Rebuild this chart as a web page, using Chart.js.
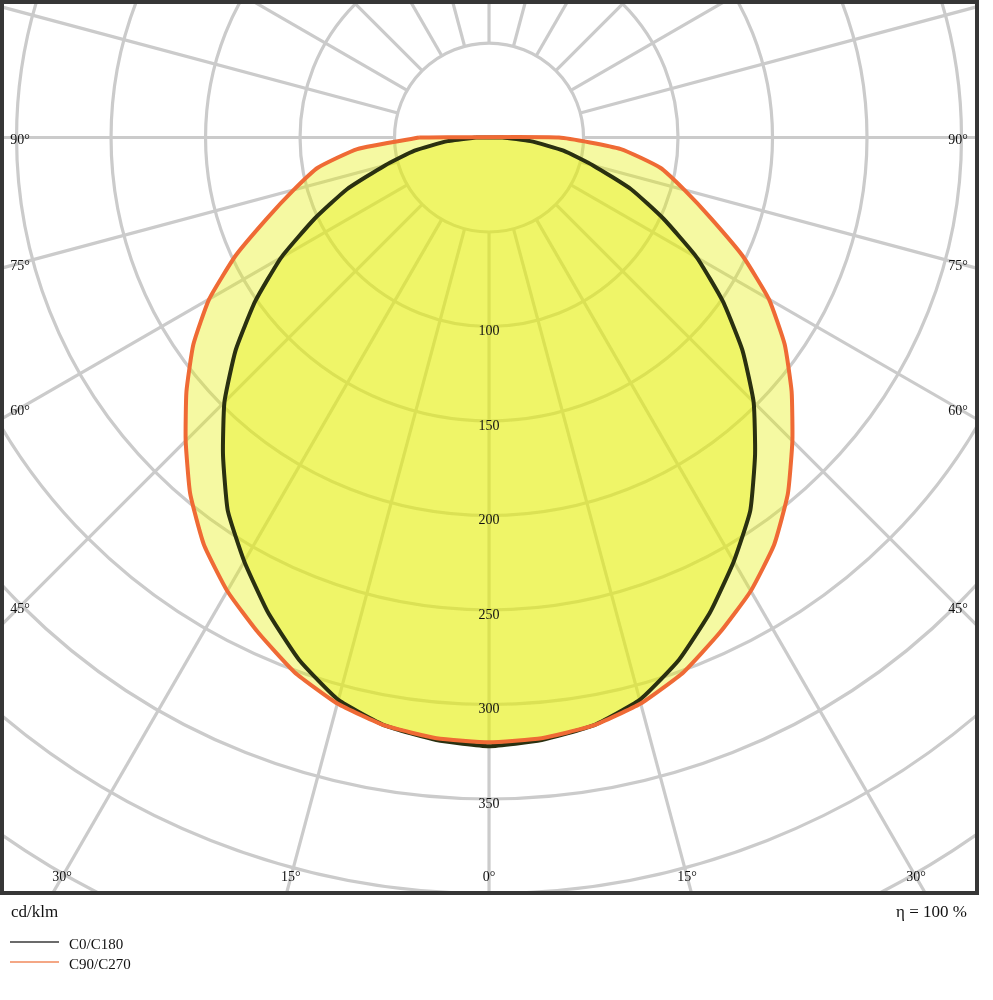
<!DOCTYPE html>
<html>
<head>
<meta charset="UTF-8">
<title>Lichtstärkeverteilung</title>
<script src="https://cdn.jsdelivr.net/npm/chart.js@4.4.1/dist/chart.umd.min.js"></script>
<style>
  html, body { margin: 0; padding: 0; background: #fff; }
  canvas { display: block; }
</style>
</head>
<body>
<canvas id="ldc" width="993" height="1000"></canvas>
<script>
  // angulo gamma (graus a partir do nadir) e intensidades em cd/klm
  const gamma   = [0, 5, 10, 15, 20, 25, 30, 35, 40, 45, 50, 55, 60, 65, 70, 75, 80, 85, 90];
  const c0c180  = [322, 320, 316, 308, 294, 277, 259, 241, 219, 198, 175, 151, 127, 102, 80, 57, 40, 22, 7];
  const c90c270 = [320, 319, 316, 310, 301, 289, 277, 263, 246, 227, 209, 191, 171, 148, 125, 107, 92, 70, 37];

  const rings = [50, 100, 150, 200, 250, 300, 350, 400, 450, 500];
  const ringLabels = [100, 150, 200, 250, 300, 350];
  const sideAngles = [90, 75, 60, 45];
  const bottomAngles = [30, 15, 0];
  const spokeStep = 15;
  const seriesNames = ['C0/C180', 'C90/C270'];
  const unitText = 'cd/klm';
  const etaText = 'η = 100 %';

  const rad = Math.PI / 180;
  const serif = '"Liberation Serif", "Times New Roman", serif';

  // polar -> cartesiano (lado esquerdo C180/C270, lado direito C0/C90)
  function toPoints(vals) {
    const pts = [];
    for (let i = gamma.length - 1; i >= 0; i--) {
      pts.push({ x: -vals[i] * Math.sin(gamma[i] * rad), y: vals[i] * Math.cos(gamma[i] * rad) });
    }
    for (let i = 1; i < gamma.length; i++) {
      pts.push({ x: vals[i] * Math.sin(gamma[i] * rad), y: vals[i] * Math.cos(gamma[i] * rad) });
    }
    pts.push({ x: pts[0].x, y: pts[0].y });
    return pts;
  }

  const polarGrid = {
    id: 'polarGrid',
    beforeDraw(chart) {
      const { ctx, chartArea: a, scales: { x, y } } = chart;
      const cx = x.getPixelForValue(0), cy = y.getPixelForValue(0);
      const k = x.getPixelForValue(1) - cx;
      ctx.save();
      ctx.beginPath();
      ctx.rect(a.left, a.top, a.width, a.height);
      ctx.clip();
      ctx.strokeStyle = '#cbcbcb';
      ctx.lineWidth = 3.2;
      rings.forEach(v => {
        ctx.beginPath();
        ctx.arc(cx, cy, v * k, 0, 2 * Math.PI);
        ctx.stroke();
      });
      for (let d = 0; d < 360; d += spokeStep) {
        const s = Math.sin(d * rad), c = Math.cos(d * rad);
        ctx.beginPath();
        ctx.moveTo(cx + s * rings[0] * k, cy + c * rings[0] * k);
        ctx.lineTo(cx + s * 1500, cy + c * 1500);
        ctx.stroke();
      }
      ctx.restore();
    },
    afterDatasetsDraw(chart) {
      const { ctx, chartArea: a, scales: { x, y } } = chart;
      const cx = x.getPixelForValue(0), cy = y.getPixelForValue(0);
      ctx.save();
      ctx.fillStyle = '#111';
      ctx.textAlign = 'center';
      ctx.textBaseline = 'middle';
      ctx.font = '14px ' + serif;
      ringLabels.forEach(v => ctx.fillText(String(v), cx, y.getPixelForValue(v) + 5));

      sideAngles.forEach(g => {
        const t = Math.tan(g * rad);
        const lx = a.left + 18, rx = a.right - 19;
        ctx.fillText(g + '°', lx, cy + (cx - lx) / t + 3);
        ctx.fillText(g + '°', rx, cy + (rx - cx) / t + 3);
      });
      bottomAngles.forEach(g => {
        const ly = a.bottom - 16;
        const dx = (ly - cy) * Math.tan(g * rad);
        ctx.fillText(g + '°', cx - dx, ly);
        if (g) ctx.fillText(g + '°', cx + dx, ly);
      });
      ctx.restore();
    },
    afterDraw(chart) {
      const { ctx, chartArea: a } = chart;
      ctx.save();
      ctx.strokeStyle = '#363636';
      ctx.lineWidth = 4;
      ctx.strokeRect(a.left, a.top, a.width, a.height);

      ctx.fillStyle = '#111';
      ctx.textBaseline = 'alphabetic';
      ctx.font = '17px ' + serif;
      ctx.textAlign = 'left';
      ctx.fillText(unitText, 11, 917);
      ctx.textAlign = 'right';
      ctx.fillText(etaText, 967, 917);

      // legenda
      ctx.textAlign = 'left';
      ctx.textBaseline = 'middle';
      ctx.font = '15px ' + serif;
      const ds = chart.data.datasets;
      [ds[1], ds[0]].forEach((d, i) => {
        const ly = 942 + i * 20;
        ctx.strokeStyle = i ? '#f08a5c' : '#3a3a3a';
        ctx.lineWidth = 1.3;
        ctx.beginPath();
        ctx.moveTo(10, ly);
        ctx.lineTo(59, ly);
        ctx.stroke();
        ctx.fillStyle = '#111';
        ctx.fillText(d.label, 69, ly + 3);
      });
      ctx.restore();
    }
  };

  new Chart(document.getElementById('ldc'), {
    type: 'scatter',
    data: {
      datasets: [
        {
          label: seriesNames[1],
          data: toPoints(c90c270),
          showLine: true,
          borderColor: '#ef6a35',
          borderWidth: 4,
          backgroundColor: 'rgba(228, 238, 10, 0.38)',
          fill: 'shape',
          pointRadius: 0,
          tension: 0.15,
          order: 0
        },
        {
          label: seriesNames[0],
          data: toPoints(c0c180),
          showLine: true,
          borderColor: '#2a3010',
          borderWidth: 4,
          backgroundColor: 'rgba(228, 238, 10, 0.38)',
          fill: 'shape',
          pointRadius: 0,
          tension: 0.15,
          order: 1
        }
      ]
    },
    options: {
      responsive: false,
      animation: false,
      devicePixelRatio: 1,
      layout: { padding: { left: 2, top: 2, right: 16, bottom: 107 } },
      scales: {
        x: { type: 'linear', min: -257.7, max: 258.2, display: false },
        y: { type: 'linear', min: -71.7, max: 399.7, reverse: true, display: false }
      },
      plugins: {
        legend: { display: false },
        tooltip: { enabled: false },
        filler: { drawTime: 'beforeDatasetsDraw' }
      }
    },
    plugins: [polarGrid]
  });
</script>
</body>
</html>
